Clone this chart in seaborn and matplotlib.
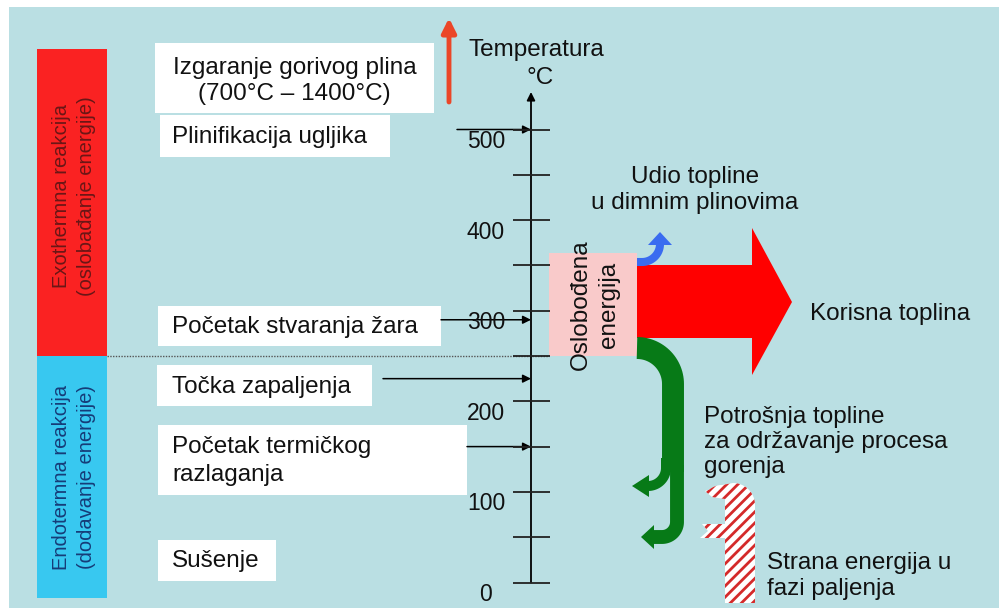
import numpy as np
import matplotlib.pyplot as plt
import seaborn as sns
from matplotlib.patches import Rectangle, Polygon

sns.set_theme(style='white')
plt.rcParams['font.family'] = ['Liberation Sans', 'DejaVu Sans']
plt.rcParams['hatch.linewidth'] = 2.0

# temperature scale (deg C)
tick_temps = [0, 50, 100, 150, 200, 250, 300, 350, 400, 450, 500]
label_temps = [0, 100, 200, 300, 400, 500]
tick_labels = ['0', '100', '200', '300', '400', '500']
boundary_temp = 250   # exo / endo border

# process stages and the temperature each one points to (None = no arrow)
stage_names = ['Izgaranje gorivog plina\n(700°C – 1400°C)', 'Plinifikacija ugljika',
               'Početak stvaranja žara', 'Točka zapaljenja',
               'Početak termičkog\nrazlaganja', 'Sušenje']
stage_temps = [None, 500, 290, 225, 150, None]

# layout of the stage boxes (pixels: left, top, right, bottom) and arrow starts
stage_boxes = [(155, 43, 434, 113), (160, 115, 390, 157), (158, 306, 441, 346),
               (157, 365, 372, 406), (158, 425, 467, 495), (158, 540, 276, 581)]
arrow_x0 = [None, 457, 441, 383, 467, None]

AX_X = 531
TXT = '#111111'


def ty(t):
    # temperature -> pixel row
    return 582.5 - 0.906 * t


def arc(cx, cy, r, a0, a1, n=30):
    a = np.radians(np.linspace(a0, a1, n))
    return list(cx + r * np.cos(a)), list(cy + r * np.sin(a))


fig = plt.figure(figsize=(9.99, 6.08), dpi=100)
ax = fig.add_axes([0, 0, 1, 1])
ax.set_xlim(0, 999)
ax.set_ylim(608, 0)
ax.axis('off')

# background
ax.add_patch(Rectangle((9, 7), 990, 601, facecolor='#badfe3', edgecolor='none', zorder=0))

# exo / endo side bars
yb = ty(boundary_temp)
ax.add_patch(Rectangle((37, 49), 70, yb - 49, facecolor='#fa2222', edgecolor='none', zorder=1))
ax.add_patch(Rectangle((37, yb), 70, 598 - yb, facecolor='#38c8f0', edgecolor='none', zorder=1))
ax.text(74, 196, 'Exothermna reakcija\n(oslobađanje energije)', rotation=90,
        ha='center', va='center', fontsize=14.5, color='#6a1616', linespacing=1.35, zorder=2)
ax.text(74, 477, 'Endotermna reakcija\n(dodavanje energije)', rotation=90,
        ha='center', va='center', fontsize=14.5, color='#163c78', linespacing=1.35, zorder=2)
ax.plot([107, 549], [yb, yb], color='#555555', lw=1, ls=(0, (1, 1)), zorder=2)

# stage boxes, labels and arrows onto the axis
for name, t, box, x0 in zip(stage_names, stage_temps, stage_boxes, arrow_x0):
    l, tp, r, b = box
    ax.add_patch(Rectangle((l, tp), r - l, b - tp, facecolor='white', edgecolor='none', zorder=2))
    if '°C' in name:
        ax.text((l + r) / 2, (tp + b) / 2 + 3, name, ha='center', va='center',
                fontsize=17.5, color=TXT, linespacing=1.2, zorder=3)
    else:
        ax.text(172, (tp + b) / 2 + 1, name, ha='left', va='center',
                fontsize=17.5, color=TXT, linespacing=1.3, zorder=3)
    if t is not None:
        ax.annotate('', xy=(AX_X, ty(t)), xytext=(x0, ty(t)),
                    arrowprops=dict(arrowstyle='-|>', color='black', lw=1.1,
                                    mutation_scale=12, shrinkA=0, shrinkB=0), zorder=4)

# temperature axis
ax.annotate('', xy=(AX_X, 92), xytext=(AX_X, ty(0)),
            arrowprops=dict(arrowstyle='-|>', color='black', lw=1.3,
                            mutation_scale=12, shrinkA=0, shrinkB=0), zorder=4)
ax.hlines([ty(t) for t in tick_temps], 513, 550, color='#222222', lw=1.3, zorder=4)
for t, lab in zip(label_temps, tick_labels):
    ax.text(486, ty(t) + 12, lab, ha='center', va='center', fontsize=16.5, color=TXT, zorder=4)
ax.text(536, 50, 'Temperatura', ha='center', va='center', fontsize=17.5, color=TXT)
ax.text(540, 78, '°C', ha='center', va='center', fontsize=17.5, color=TXT)
ax.annotate('', xy=(449, 18), xytext=(449, 102),
            arrowprops=dict(arrowstyle='-|>,head_width=0.3,head_length=0.6', color='#eb4628',
                            lw=3.5, mutation_scale=14, shrinkA=0, shrinkB=0))

# released energy block
ax.add_patch(Rectangle((549, 253), 88, yb - 253, facecolor='#f9caca', edgecolor='none', zorder=3))
ax.text(595, 305, 'Oslobođena\nenergija', rotation=90, ha='center', va='center',
        fontsize=17.5, color=TXT, linespacing=1.35, zorder=6)

# useful heat arrow
ax.add_patch(Polygon([(637, 265), (752, 265), (752, 228), (792, 302), (752, 375),
                      (752, 338), (637, 338)], closed=True, facecolor='#ff0000',
                     edgecolor='none', zorder=4))

# flue gas heat (blue)
bx, by = arc(642, 244, 18, 90, 0)
ax.plot([637] + bx, [262] + by, color='#3a6cf0', lw=5.8, solid_capstyle='butt', zorder=4)
ax.add_patch(Polygon([(648, 245), (672, 245), (660, 232)], facecolor='#3a6cf0',
                     edgecolor='none', zorder=4))

# heat to keep combustion going (green)
GR = '#077a17'
gx, gy = arc(637, 384, 36, 270, 360)
ax.plot(gx + [673], gy + [472], color=GR, lw=15.8, solid_capstyle='butt', zorder=4)
gx, gy = arc(662, 522, 15, 0, 90)
ax.plot([677] + gx + [653], [465] + gy + [537], color=GR, lw=10, solid_capstyle='butt', zorder=4)
ax.add_patch(Polygon([(654, 525), (654, 549), (641, 537)], facecolor=GR, edgecolor='none', zorder=4))
gx, gy = arc(648, 468, 18, 0, 90)
ax.plot([666] + gx, [458] + gy, color=GR, lw=7.2, solid_capstyle='butt', zorder=4)
ax.add_patch(Polygon([(649, 475), (649, 497), (632, 486)], facecolor=GR, edgecolor='none', zorder=4))

# external ignition energy (hatched)
hx, hy = arc(733, 505, 22, 0, -90)
tx, tyy = arc(722, 505, 20, -90, -130, 8)
pts = ([(755, 603)] + list(zip(hx, hy)) + list(zip(tx, tyy)) +
       [(705, 491), (712, 497), (725, 499), (725, 524), (702, 524), (708, 531),
        (700, 538), (725, 538), (725, 603)])
ax.add_patch(Polygon(pts, closed=True, facecolor='white', edgecolor='#d42a2a', lw=0,
                     hatch='///', zorder=4))

# right side labels
ax.text(695, 190, 'Udio topline\nu dimnim plinovima', ha='center', va='center',
        fontsize=17.5, color=TXT, linespacing=1.2)
ax.text(810, 314, 'Korisna toplina', ha='left', va='center', fontsize=17.5, color=TXT)
ax.text(704, 442, 'Potrošnja topline\nza održavanje procesa\ngorenja', ha='left', va='center',
        fontsize=17.5, color=TXT, linespacing=1.2)
ax.text(767, 576, 'Strana energija u\nfazi paljenja', ha='left', va='center',
        fontsize=17.5, color=TXT, linespacing=1.2)

fig.savefig('out.png', dpi=100, facecolor='white')
